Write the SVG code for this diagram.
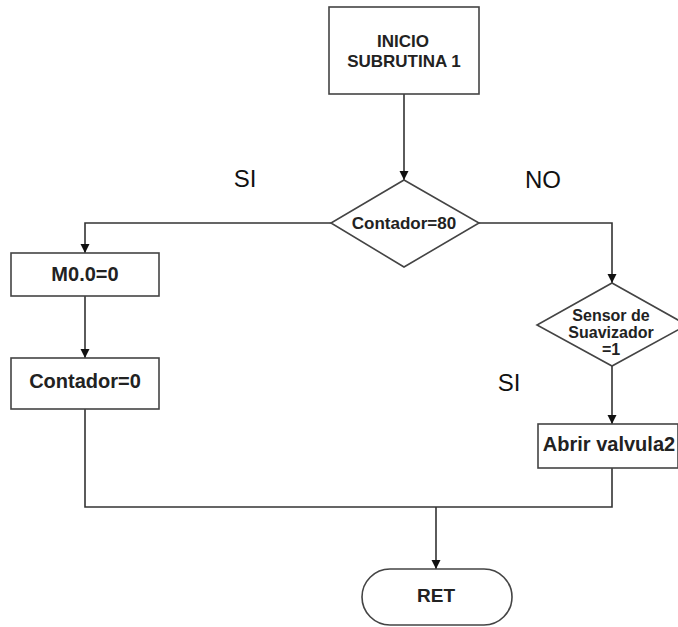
<svg xmlns="http://www.w3.org/2000/svg" width="678" height="627" viewBox="0 0 678 627">
<style>
.box{fill:#fff;stroke:#444;stroke-width:1.6}
.con{fill:none;stroke:#333;stroke-width:1.6}
.t{font-family:"Liberation Sans",Arial,sans-serif;font-weight:bold;fill:#222;text-anchor:middle}
.lbl{font-family:"Liberation Sans",Arial,sans-serif;fill:#111;font-size:24px;text-anchor:middle}
</style>
<defs>
<marker id="arr" viewBox="0 0 10 10" refX="10" refY="5" markerWidth="9" markerHeight="10" markerUnits="userSpaceOnUse" orient="auto">
<path d="M0,0 L10,5 L0,10 Z" fill="#111"/>
</marker>
</defs>
<rect width="678" height="627" fill="#fff"/>
<g id="connectors">
<path class="con" d="M404,94 L404,180" marker-end="url(#arr)"/>
<path class="con" d="M331,223 L85,223 L85,253" marker-end="url(#arr)"/>
<path class="con" d="M479,223 L612,223 L612,283" marker-end="url(#arr)"/>
<path class="con" d="M85,296 L85,358" marker-end="url(#arr)"/>
<path class="con" d="M612,366 L612,424" marker-end="url(#arr)"/>
<path class="con" d="M85,409 L85,507 L612,507 L612,468"/>
<path class="con" d="M436,507 L436,569" marker-end="url(#arr)"/>
</g>
<g id="inicio">
<rect class="box" x="329" y="7" width="150" height="87"/>
<text class="t" x="403" y="47" font-size="17">INICIO</text>
<text class="t" x="404" y="67" font-size="17">SUBRUTINA 1</text>
</g>
<g id="dec1">
<polygon class="box" points="404,180 479,223 404,267 331,223"/>
<text class="t" x="404" y="229" font-size="17">Contador=80</text>
</g>
<g id="m00">
<rect class="box" x="11" y="253" width="148" height="43"/>
<text class="t" x="85" y="281" font-size="20">M0.0=0</text>
</g>
<g id="contador0">
<rect class="box" x="11" y="358" width="148" height="51"/>
<text class="t" x="85" y="388" font-size="20">Contador=0</text>
</g>
<g id="dec2">
<polygon class="box" points="612,283 687,325 612,366 537,325"/>
<text class="t" x="611" y="321" font-size="16">Sensor de</text>
<text class="t" x="611" y="338" font-size="16">Suavizador</text>
<text class="t" x="611" y="355" font-size="16">=1</text>
</g>
<g id="abrir">
<rect class="box" x="538" y="424" width="140" height="44"/>
<text class="t" x="609" y="451" font-size="20">Abrir valvula2</text>
</g>
<g id="ret">
<rect class="box" x="362" y="569" width="150" height="56" rx="28" ry="28"/>
<text class="t" x="436" y="602" font-size="19">RET</text>
</g>
<g id="labels">
<text class="lbl" x="245" y="187">SI</text>
<text class="lbl" x="543" y="188">NO</text>
<text class="lbl" x="509" y="391">SI</text>
</g>
</svg>
